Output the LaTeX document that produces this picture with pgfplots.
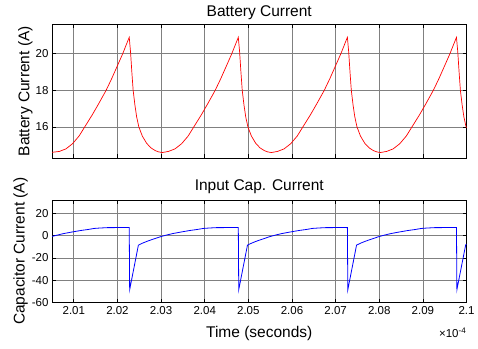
\documentclass[border=0pt]{standalone}
\usepackage{fontspec}
\setmainfont{Liberation Sans}
\usepackage{pgfplots}
\pgfplotsset{compat=1.18}
\pgfplotsset{
  mystyle/.style={
    scale only axis,
    width=414.5pt,
    xmin=2.005, xmax=2.1,
    grid=major,
    major grid style={black!50, line width=0.7pt},
    axis line style={black, line width=0.9pt},
    tick style={black, line width=0.7pt},
    tick align=inside,
    major tick length=4pt,
    xtick={2.01,2.02,2.03,2.04,2.05,2.06,2.07,2.08,2.09,2.1},
    /pgf/number format/assume math mode=true,
    tick label style={font=\fontsize{11.5}{12}\selectfont},
    label style={font=\fontsize{15.5}{16}\selectfont},
    title style={font=\fontsize{15.5}{16}\selectfont, at={(0.5,1)}, anchor=center},
  }
}
\begin{document}
\begin{tikzpicture}
\useasboundingbox (0,0) rectangle (478pt,348pt);
\begin{axis}[mystyle,
  at={(52pt,190pt)}, anchor=south west,
  height=133.5pt,
  ymin=14.3, ymax=21.6,
  ytick={16,18,20}, yticklabels={16,18,20},
  xticklabels={},
  title={Battery Current},
  title style={yshift=5.5pt},
  ylabel={Battery Current (A)},
  ylabel style={at={(axis description cs:-0.064,0.5)}, anchor=center},
]
\addplot[red, line width=0.7pt] coordinates {
(2.0050,14.61)
(2.0067,14.66) (2.0082,14.80) (2.0097,15.08) (2.0112,15.50) (2.0125,16.00) (2.0142,16.65) (2.0157,17.27) (2.0174,18.00) (2.0187,18.65) (2.0200,19.35) (2.0212,20.00) (2.0227,20.90)
(2.0230,20.10) (2.0233,19.00) (2.0236,18.00) (2.0240,17.20) (2.0244,16.55) (2.0249,16.00) (2.0257,15.50) (2.0267,15.10) (2.0277,14.85) (2.0287,14.70) (2.0295,14.63) (2.0303,14.60)
(2.0317,14.66) (2.0332,14.80) (2.0347,15.08) (2.0362,15.50) (2.0375,16.00) (2.0392,16.65) (2.0407,17.27) (2.0424,18.00) (2.0437,18.65) (2.0450,19.35) (2.0462,20.00) (2.0477,20.90)
(2.0480,20.10) (2.0483,19.00) (2.0486,18.00) (2.0490,17.20) (2.0494,16.55) (2.0499,16.00) (2.0507,15.50) (2.0517,15.10) (2.0527,14.85) (2.0537,14.70) (2.0545,14.63) (2.0553,14.60)
(2.0567,14.66) (2.0582,14.80) (2.0597,15.08) (2.0612,15.50) (2.0625,16.00) (2.0642,16.65) (2.0657,17.27) (2.0674,18.00) (2.0687,18.65) (2.0700,19.35) (2.0712,20.00) (2.0727,20.90)
(2.0730,20.10) (2.0733,19.00) (2.0736,18.00) (2.0740,17.20) (2.0744,16.55) (2.0749,16.00) (2.0757,15.50) (2.0767,15.10) (2.0777,14.85) (2.0787,14.70) (2.0795,14.63) (2.0803,14.60)
(2.0817,14.66) (2.0832,14.80) (2.0847,15.08) (2.0862,15.50) (2.0875,16.00) (2.0892,16.65) (2.0907,17.27) (2.0924,18.00) (2.0937,18.65) (2.0950,19.35) (2.0962,20.00) (2.0977,20.90)
(2.0980,20.10) (2.0983,19.00) (2.0986,18.00) (2.0990,17.20) (2.0994,16.55) (2.0999,16.00) (2.1000,15.95)
};
\end{axis}
\begin{axis}[mystyle,
  at={(52pt,45.5pt)}, anchor=south west,
  height=102.5pt,
  ymin=-60, ymax=32,
  ytick={-60,-40,-20,0,20}, yticklabels={-60,-40,-20,0,20},
  xticklabels={2.01,2.02,2.03,2.04,2.05,2.06,2.07,2.08,2.09,2.1},
  title={Input Cap. Current},
  title style={yshift=7pt},
  ylabel={Capacitor Current (A)},
  ylabel style={at={(axis description cs:-0.0755,0.5)}, anchor=center},
  xlabel={Time (seconds)},
  xlabel style={at={(axis description cs:0.5,-0.298)}, anchor=center},
  after end axis/.code={
    \node[anchor=east, inner sep=0pt, font=\fontsize{11.5}{12}\selectfont] at (rel axis cs:1,0) [yshift=-30.5pt] {×10\textsuperscript{-4}};
  },
]
\addplot[blue, line width=0.8pt] coordinates {
(2.0050,-0.7) (2.0062,0.5) (2.0077,1.9) (2.0092,3.0) (2.0102,3.7) (2.0117,4.7) (2.0132,5.5) (2.0147,6.5) (2.0162,6.9) (2.0177,7.2) (2.0227,7.3)
(2.0228,-48.5) (2.0248,-8.5) (2.0257,-6.8) (2.0267,-5.2) (2.0277,-3.8) (2.0287,-2.5) (2.0298,-1.0) (2.0312,0.5) (2.0327,1.9) (2.0342,3.0) (2.0352,3.7) (2.0367,4.7) (2.0382,5.5) (2.0397,6.5) (2.0412,6.9) (2.0427,7.2) (2.0477,7.3)
(2.0478,-48.5) (2.0498,-8.5) (2.0507,-6.8) (2.0517,-5.2) (2.0527,-3.8) (2.0537,-2.5) (2.0548,-1.0) (2.0562,0.5) (2.0577,1.9) (2.0592,3.0) (2.0602,3.7) (2.0617,4.7) (2.0632,5.5) (2.0647,6.5) (2.0662,6.9) (2.0677,7.2) (2.0727,7.3)
(2.0728,-48.5) (2.0748,-8.5) (2.0757,-6.8) (2.0767,-5.2) (2.0777,-3.8) (2.0787,-2.5) (2.0798,-1.0) (2.0812,0.5) (2.0827,1.9) (2.0842,3.0) (2.0852,3.7) (2.0867,4.7) (2.0882,5.5) (2.0897,6.5) (2.0912,6.9) (2.0927,7.2) (2.0977,7.3)
(2.0978,-48.5) (2.0998,-8.5) (2.1000,-7.5)
};
\end{axis}
\end{tikzpicture}
\end{document}
